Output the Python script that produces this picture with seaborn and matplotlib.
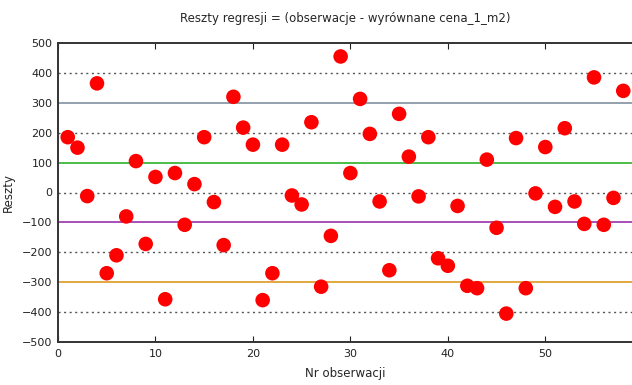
import matplotlib
matplotlib.use("Agg")
import matplotlib.pyplot as plt
import seaborn as sns
import numpy as np
import pandas as pd

obs = list(range(1, 59))
residuals = [185, 150, -12, 365, -270, -210, -80, 105, -172, 52,
             -357, 65, -108, 28, 185, -32, -176, 320, 217, 160,
             -360, -270, 160, -10, -40, 235, -315, -145, 455, 65,
             313, 196, -30, -260, 263, 120, -13, 185, -220, -245,
             -45, -312, -320, 110, -118, -405, 182, -320, -3, 152,
             -48, 215, -30, -105, 385, -108, -18, 340]
yticks = [500, 400, 300, 200, 100, 0, -100, -200, -300, -400, -500]
xticks = [0, 10, 20, 30, 40, 50]
ref_levels = [300, 100, -100, -300]
ref_colors = ["#8a9aa8", "#3cb83c", "#a040b0", "#e0a030"]
grid_levels = [400, 200, 0, -200, -400]

sns.set_style("white")
plt.rcParams['font.family'] = ['DejaVu Sans']

df = pd.DataFrame({"obs": obs, "res": residuals})
fig = plt.figure(figsize=(6.32, 3.85), dpi=100)
ax = fig.add_axes([58/632, 1-342/385, (633-58)/632, (342-43)/385])

for g in grid_levels:
    ax.axhline(g, color="#555555", linestyle=(0, (1.5, 2.5)), linewidth=1.0, zorder=1)
for lv, c in zip(ref_levels, ref_colors):
    ax.axhline(lv, color=c, linewidth=1.3, zorder=1)

sns.scatterplot(data=df, x="obs", y="res", color="#ff0000", s=110,
                edgecolor="none", linewidth=0, ax=ax, zorder=3)

ax.set_xlim(0, 59)
ax.set_ylim(-500, 500)
ax.set_xticks(xticks)
ax.set_yticks(yticks)
ax.tick_params(axis="both", direction="in", labelsize=8, colors="#222222",
               top=True, bottom=True, left=False, right=False, length=4)
ax.tick_params(axis="y", length=0, pad=4)
ax.tick_params(axis="x", pad=5)
for s in ax.spines.values():
    s.set_color("#333333")
    s.set_linewidth(1.4)
ax.spines["right"].set_visible(False)
ax.set_xlabel("Nr obserwacji", fontsize=8.5, labelpad=6)
ax.set_ylabel("Reszty", fontsize=8.5, labelpad=5)
ax.set_title("Reszty regresji = (obserwacje - wyrównane cena_1_m2)", fontsize=8.5, pad=15)

fig.savefig("out.png", dpi=100)
